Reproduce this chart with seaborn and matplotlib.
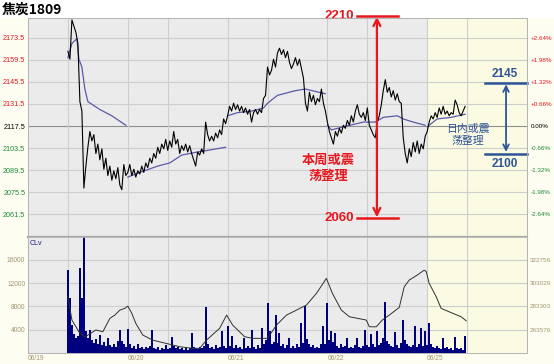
'''
焦炭1809 intraday chart - price, day average, volume and open interest
'''

import matplotlib
matplotlib.use('Agg')
import matplotlib.pyplot as plt
import seaborn as sns
import numpy as np
import pandas as pd
from matplotlib.patches import Rectangle

# trading days on the x axis
days = ['06/19', '06/20', '06/21', '06/22', '06/25']

# price every 7.5 min, one list per trading day
price_0619 = [2165, 2160, 2185, 2181, 2177, 2170, 2133, 2127, 2078, 2092,
              2104, 2114, 2108, 2112, 2100, 2106, 2096, 2103, 2090, 2097,
              2086, 2092, 2083, 2089, 2084, 2091, 2080, 2077, 2093, 2086]
price_0620 = [2088, 2093, 2086, 2090, 2085, 2089, 2087, 2092, 2088, 2094,
              2091, 2097, 2094, 2100, 2097, 2104, 2100, 2106, 2103, 2109,
              2102, 2108, 2104, 2114, 2106, 2109, 2100, 2105, 2102, 2106,
              2101, 2105, 2100, 2096, 2092, 2101, 2099, 2103, 2100, 2120,
              2112, 2108, 2111, 2108, 2113, 2110, 2115, 2112, 2122, 2119]
price_0621 = [2124, 2130, 2127, 2132, 2128, 2131, 2127, 2130, 2126, 2129,
              2125, 2128, 2120, 2126, 2128, 2125, 2128, 2126, 2135, 2137,
              2155, 2150, 2153, 2160, 2155, 2164, 2167, 2163, 2166, 2161,
              2165, 2158, 2154, 2157, 2161, 2156, 2160, 2154, 2148, 2132,
              2127, 2139, 2133, 2137, 2131, 2135, 2133, 2141, 2132, 2127]
price_0622 = [2120, 2114, 2110, 2106, 2114, 2111, 2116, 2113, 2118, 2116,
              2121, 2118, 2124, 2120, 2127, 2131, 2125, 2123, 2126, 2121,
              2129, 2118, 2115, 2112, 2110, 2120, 2124, 2131, 2140, 2147,
              2139, 2142, 2136, 2140, 2134, 2138, 2133, 2132, 2110, 2100,
              2094, 2103, 2098, 2107, 2101, 2108, 2100, 2106, 2103, 2111]
price_0625 = [2114, 2120, 2124, 2122, 2126, 2123, 2129, 2125, 2130, 2125,
              2127, 2124, 2126, 2125, 2134, 2131, 2126, 2124, 2127, 2130]

# volume for the same slots
vol_0619 = [14200, 9500, 4800, 3200, 2500, 3000, 14600, 9400, 19900, 3800,
            2600, 3900, 2200, 1800, 2400, 1500, 3100, 1400, 1900, 1200,
            2600, 1300, 1000, 1600, 1100, 2100, 3900, 2000, 1500, 1000]
vol_0620 = [4200, 1500, 900, 1200, 700, 1500, 900, 1100, 700, 1000,
            800, 1200, 4000, 900, 700, 1100, 600, 900, 700, 1400,
            700, 900, 2800, 1200, 800, 1000, 700, 900, 600, 800,
            600, 900, 3500, 1100, 800, 700, 1000, 800, 1200, 7900,
            1500, 900, 1100, 700, 1300, 800, 1000, 3800, 1200, 900]
vol_0621 = [4600, 1200, 2900, 900, 1400, 800, 1100, 700, 2500, 900,
            1200, 800, 3900, 1000, 700, 1300, 800, 4300, 1500, 2200,
            8600, 3800, 1500, 1900, 6500, 1800, 3500, 1200, 1500, 900,
            1300, 2600, 900, 1200, 800, 1500, 1000, 5200, 1800, 8000,
            2400, 1600, 1000, 1300, 800, 1100, 900, 1600, 4600, 1500]
vol_0622 = [8600, 2200, 3800, 1900, 3400, 1200, 900, 1500, 1000, 1200,
            2500, 900, 1100, 800, 1300, 2500, 1000, 800, 1200, 4000,
            1300, 1000, 3200, 1500, 1100, 3800, 1400, 1800, 2600, 8800,
            2100, 1500, 1200, 1000, 3600, 1300, 900, 1800, 5700, 2300,
            1600, 1200, 1000, 1400, 4600, 1100, 1500, 4300, 1200, 3800]
vol_0625 = [1400, 5100, 1500, 1000, 800, 1200, 900, 700, 2600, 800,
            1000, 700, 900, 600, 2800, 800, 700, 900, 600, 2900]

# day average price (slot, value) per trading day
avg_0619_t = [20, 22, 24.5, 25.5, 27, 28.5, 30, 36, 42, 49]
avg_0619 = [2161, 2170, 2173, 2160, 2155, 2141, 2133, 2128, 2124, 2118]
avg_0620_t = [50, 56, 65, 71, 77, 85, 90, 99]
avg_0620 = [2085, 2088, 2092, 2094, 2099, 2101, 2102, 2104]
avg_0621_t = [100, 105, 112, 118, 120, 125, 134, 139, 149]
avg_0621 = [2124, 2126, 2127, 2129, 2132, 2137, 2140, 2141, 2138]
avg_0622_t = [150, 152, 158, 168, 174, 178, 185, 188, 193, 199]
avg_0622 = [2118, 2115, 2117, 2120, 2120, 2123, 2124, 2122, 2120, 2118]
avg_0625_t = [200, 205, 212, 219]
avg_0625 = [2117, 2122, 2123, 2125]

# open interest (slot, value)
oi_t = [20, 22, 26, 28.5, 34, 37.5, 41, 43.5, 46, 48.5, 50, 52, 54, 57.5,
        62.5, 69, 76, 82.5, 86, 89.5, 96, 99.5, 102.5, 108.5, 112.5, 120,
        124.5, 129.5, 134.5, 139.5, 144.5, 149.5, 152.5, 157, 161, 169.5,
        171, 174.5, 177.5, 181, 186, 188.5, 191, 195, 198.5, 199.5, 201,
        204.5, 207, 211, 217, 219.5]
oi = [291500, 271800, 260500, 257400, 263400, 261900, 273200, 276000,
      280250, 281700, 283600, 277500, 269000, 259100, 254800, 252100,
      249200, 247800, 247800, 254900, 264800, 276000, 267600, 257700,
      256300, 256300, 267600, 276000, 280250, 284500, 294400, 307100,
      294400, 280250, 274600, 271800, 266100, 266100, 271800, 276000,
      282500, 300000, 305700, 309900, 314100, 313000, 302900, 291500,
      281700, 278800, 274600, 271200]

# axis labels
price_labels = ['2173.5', '2159.5', '2145.5', '2131.5', '2117.5',
                '2103.5', '2089.5', '2075.5', '2061.5']
pct_labels = ['+2.64%', '+1.98%', '+1.32%', '+0.66%', '0.00%',
              '-0.66%', '-1.32%', '-1.98%', '-2.64%']
vol_labels = ['16000', '12000', '8000', '4000']
oi_labels = ['322756', '303029', '283303', '263576']

# slot layout: 50 slots a day, first 20 are the night session
SLOTS = 50
NIGHT = 20
starts = [NIGHT, SLOTS, 2 * SLOTS, 3 * SLOTS, 4 * SLOTS]

prices = [price_0619, price_0620, price_0621, price_0622, price_0625]
vols = [vol_0619, vol_0620, vol_0621, vol_0622, vol_0625]
price_t = np.concatenate([s + np.arange(len(p)) for s, p in zip(starts, prices)])
price_v = np.concatenate(prices)
vol_v = np.concatenate(vols)

avg_df = pd.concat([
    pd.DataFrame({'t': t, 'v': v, 'day': d}) for t, v, d in zip(
        [avg_0619_t, avg_0620_t, avg_0621_t, avg_0622_t, avg_0625_t],
        [avg_0619, avg_0620, avg_0621, avg_0622, avg_0625], days)])
vol_df = pd.DataFrame({'t': price_t, 'vol': vol_v})

plt.rcParams['font.family'] = ['Liberation Sans', 'DejaVu Sans']
CJK = ['Noto Sans CJK SC', 'DejaVu Sans']
RED = '#e8161d'
GREEN = '#1f8a3a'
BLUE = '#2e5597'
TAN = '#a29572'
PANEL = '#ebebeb'
TODAY = '#fbfbe3'

W, H = 554, 364
fig = plt.figure(figsize=(W / 100, H / 100), dpi=100, facecolor='#fdfdf1')
fig.patches.append(Rectangle((0, 1 - 17 / H), 1, 17 / H, transform=fig.transFigure,
                             color='white', zorder=-5))


def box(l, t, r, b):
    return [l / W, 1 - b / H, (r - l) / W, (b - t) / H]


ax = fig.add_axes(box(28, 18, 527, 237))
axv = fig.add_axes(box(28, 237, 527, 353))

# grid positions: each day start and each night/day session switch
vgrid = [d * SLOTS + k for d in range(len(days)) for k in (0, NIGHT)][1:]
xmax = len(days) * SLOTS

# ---------------- price panel ----------------
ref = float(price_labels[4])
price_vals = [float(s) for s in price_labels]
ax.set_facecolor(PANEL)
ax.axvspan(4 * SLOTS, xmax, color=TODAY, lw=0, zorder=0)
for v in price_vals:
    ax.axhline(v, color='#8f8f8f' if v == ref else '#cdcdcd', lw=0.8, zorder=1)
for x in vgrid:
    ax.axvline(x, color='#cdcdcd', lw=0.8, zorder=1)

sns.lineplot(data=avg_df, x='t', y='v', units='day', estimator=None, sort=False,
             color='#5a5aaa', lw=0.9, ax=ax, zorder=2, legend=False)
sns.lineplot(x=price_t, y=price_v, estimator=None, sort=False, color='black',
             lw=0.8, ax=ax, zorder=3)

ax.set_xlim(0, xmax)
ax.set_ylim(2046.9, 2186.2)
ax.set_xlabel('')
ax.set_ylabel('')
ax.set_xticks([])
ax.set_yticks(price_vals)
ax.set_yticklabels(price_labels)
ax.tick_params(axis='y', length=0, pad=2, labelsize=5.2)
label_colors = [RED if v > ref else ('black' if v == ref else GREEN) for v in price_vals]
for lbl, c in zip(ax.get_yticklabels(), label_colors):
    lbl.set_color(c)

ax2 = ax.twinx()
ax2.set_ylim(ax.get_ylim())
ax2.set_yticks(price_vals)
ax2.set_yticklabels(pct_labels)
ax2.tick_params(axis='y', length=0, pad=3, labelsize=4.5)
for lbl, c in zip(ax2.get_yticklabels(), label_colors):
    lbl.set_color(c)

for a in (ax, ax2):
    for sp in a.spines.values():
        sp.set_color('#b4b4b4')
        sp.set_linewidth(0.6)
ax.spines['bottom'].set_linewidth(1.6)
ax.spines['bottom'].set_color('#a6a6a6')

# weekly range note (red)
trans = ax.get_xaxis_transform()
for yf, txt in ((1.009, '2210'), (0.087, '2060')):
    ax.plot([165, 185.5], [yf, yf], transform=trans, color=RED, lw=1.8,
            clip_on=False, zorder=6)
    ax.text(156, yf, txt, transform=trans, ha='center', va='center', color=RED,
            fontsize=9.5, fontweight='bold', zorder=6)
ax.annotate('', xy=(174.8, 1.006), xytext=(174.8, 0.09), xycoords=trans,
            textcoords=trans, zorder=6, annotation_clip=False,
            arrowprops=dict(arrowstyle='<->,head_length=0.5,head_width=0.25',
                            color=RED, lw=1.6, shrinkA=0, shrinkB=0))
ax.text(150.3, 2091, '本周或震\n荡整理', ha='center', va='center', color=RED,
        fontsize=9.5, fontweight='bold', family=CJK, linespacing=1.15, zorder=6)

# intraday range note (blue)
for yv in (2145, 2100):
    ax.plot([229, 250], [yv, yv], color=BLUE, lw=1.8, clip_on=False, zorder=6)
ax.annotate('', xy=(239.5, 2144), xytext=(239.5, 2101), zorder=6,
            arrowprops=dict(arrowstyle='<->,head_length=0.4,head_width=0.2',
                            color=BLUE, lw=1.3, shrinkA=0, shrinkB=0))
ax.text(239, 2150.6, '2145', ha='center', va='center', color=BLUE, fontsize=8.5,
        fontweight='bold', zorder=6)
ax.text(239, 2093.4, '2100', ha='center', va='center', color=BLUE, fontsize=8.5,
        fontweight='bold', zorder=6)
ax.text(220.4, 2111.9, '日内或震\n荡整理', ha='center', va='center', color=BLUE,
        fontsize=7.8, family=CJK, linespacing=1.2, zorder=6)

# ---------------- volume panel ----------------
axv.set_facecolor(PANEL)
axv.axvspan(4 * SLOTS, xmax, color=TODAY, lw=0, zorder=0)
vol_vals = [float(s) for s in vol_labels]
for v in vol_vals:
    axv.axhline(v, color='#cdcdcd', lw=0.8, zorder=1)
for x in vgrid:
    axv.axvline(x, color='#cdcdcd', lw=0.8, zorder=1)

sns.barplot(data=vol_df, x='t', y='vol', native_scale=True, width=1,
            color='#00007f', saturation=1, errorbar=None, linewidth=0,
            ax=axv, zorder=3)
axv.set_xlim(0, xmax)
axv.set_ylim(0, 19940)
axv.set_xlabel('')
axv.set_ylabel('')
axv.set_yticks(vol_vals)
axv.set_yticklabels(vol_labels)
axv.set_xticks([d * SLOTS for d in range(len(days))])
axv.set_xticklabels(days)
for lbl in axv.get_xticklabels():
    lbl.set_ha('left')
axv.tick_params(axis='both', length=0, labelsize=4.8, labelcolor=TAN)
axv.tick_params(axis='x', pad=1.5)
axv.tick_params(axis='y', pad=2)
axv.text(0.004, 0.97, 'CLv', transform=axv.transAxes, fontsize=5, color='#1c1c7c',
         va='top', ha='left')

axo = axv.twinx()
sns.lineplot(x=oi_t, y=oi, estimator=None, sort=False, color='#303030', lw=0.7, ax=axo)
oi_vals = [float(s) for s in oi_labels]
axo.set_ylim(243877, 342200)
axo.set_yticks(oi_vals)
axo.set_yticklabels(oi_labels)
axo.set_ylabel('')
axo.tick_params(axis='y', length=0, pad=2, labelsize=4.6, labelcolor=TAN)
axo.set_xlim(0, xmax)

for a in (axv, axo):
    for sp in a.spines.values():
        sp.set_color('#b4b4b4')
        sp.set_linewidth(0.6)
    a.spines['top'].set_visible(False)

fig.text(2 / W, 1 - 10 / H, '焦炭1809', ha='left', va='center', fontsize=10,
         fontweight='bold', family=CJK)

fig.savefig('out.png', dpi=100, facecolor=fig.get_facecolor())
